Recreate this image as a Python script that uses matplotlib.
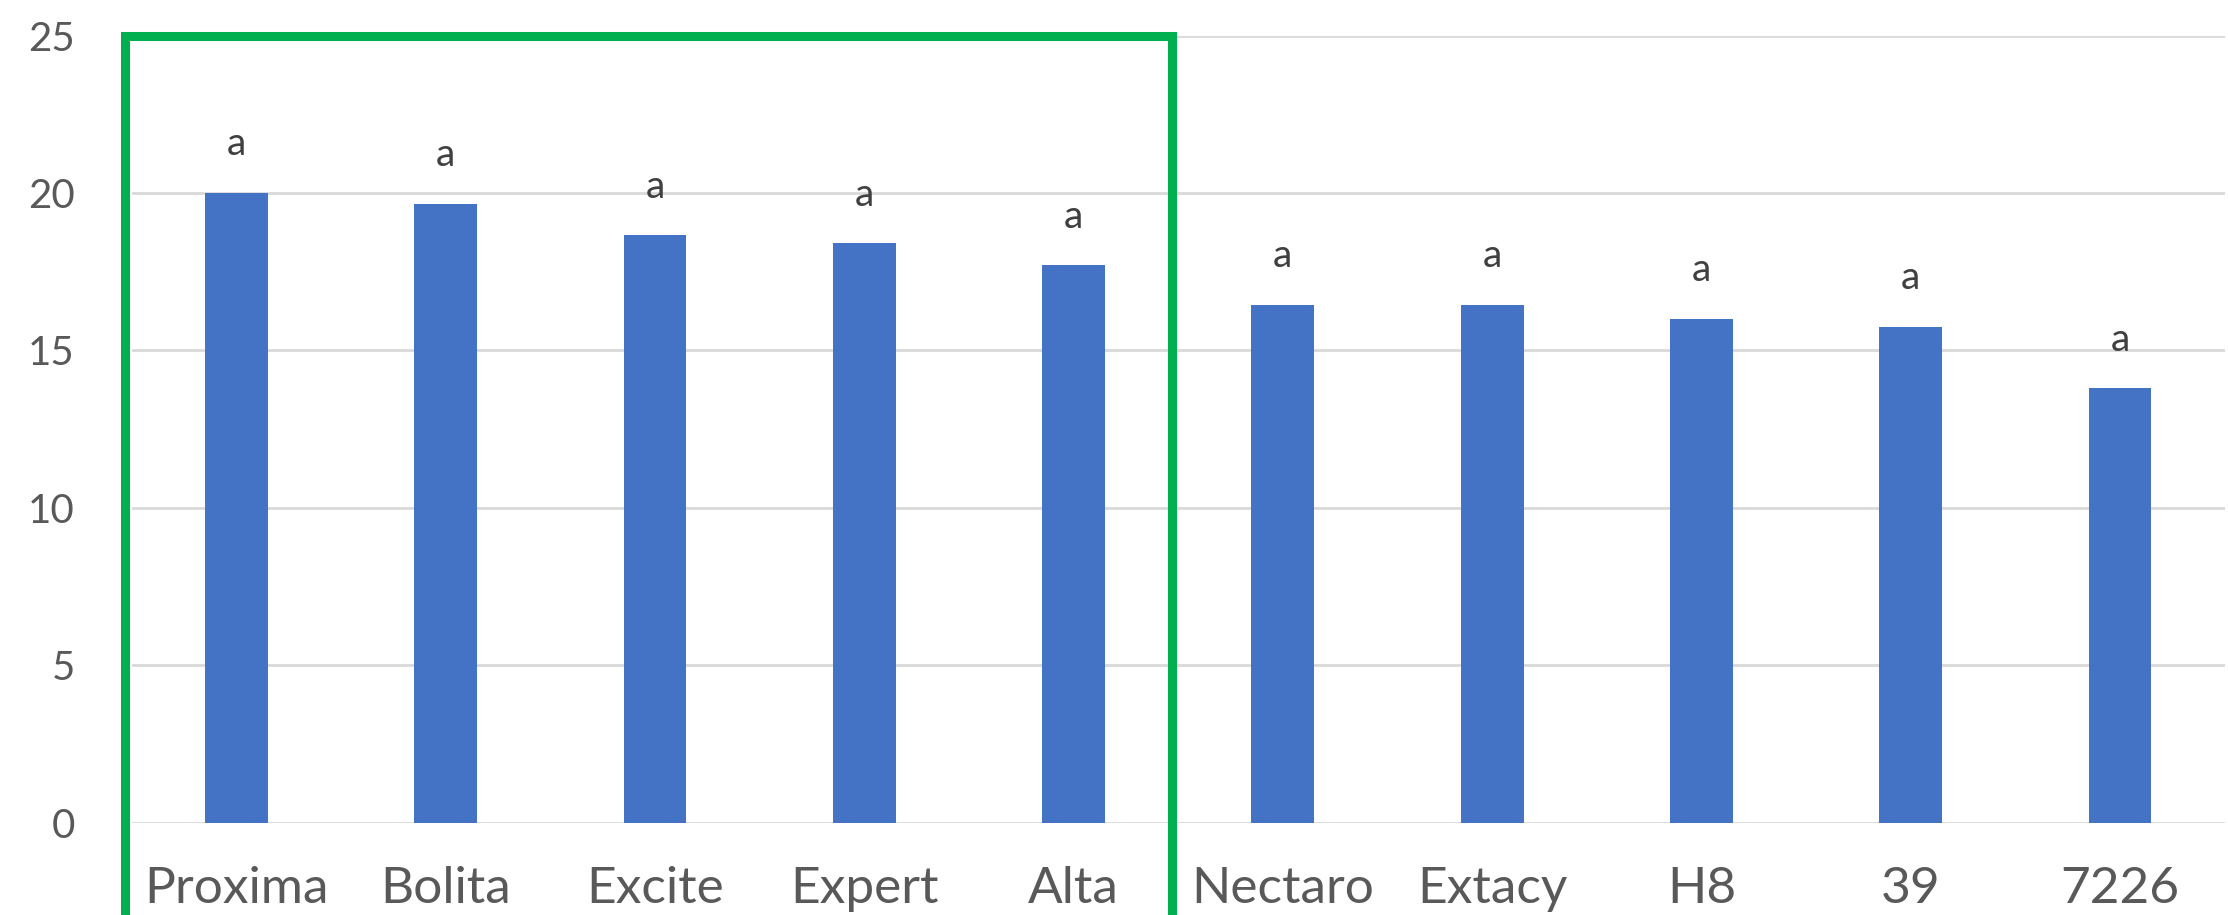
import numpy as np
import matplotlib.pyplot as plt
from matplotlib.patches import Rectangle

categories = ['Proxima', 'Bolita', 'Excite', 'Expert', 'Alta',
              'Nectaro', 'Extacy', 'H8', '39', '7226']
values = [20.0, 19.65, 18.65, 18.4, 17.7, 16.45, 16.45, 16.0, 15.75, 13.8]
letters = ['a'] * len(categories)
y_ticks = [0, 5, 10, 15, 20, 25]

plt.rcParams['font.family'] = ['Lato', 'DejaVu Sans']


def main():
    fig = plt.figure(figsize=(22.28, 9.15), dpi=100)
    ax = fig.add_axes([0.0591, 0.1009, 0.9394, 0.8603])

    x = np.arange(len(categories))
    ax.bar(x, values, width=0.30, color='#4472C4', zorder=3)

    # letters of significance above each bar
    for xi, v, lab in zip(x, values, letters):
        ax.annotate(lab, (xi, v), xytext=(0, 27), textcoords='offset points',
                    ha='center', va='baseline', fontsize=28, color='#404040')

    ax.set_xlim(-0.5, len(categories) - 0.5)
    ax.set_ylim(0, 25)
    ax.set_yticks(y_ticks)
    ax.set_xticks(x)
    ax.set_xticklabels(categories)

    ax.yaxis.grid(True, color='#D9D9D9', linewidth=2, zorder=0)
    ax.set_axisbelow(True)
    for s in ax.spines.values():
        s.set_visible(False)
    ax.tick_params(axis='y', length=0, pad=41, labelsize=29, labelcolor='#595959')
    ax.tick_params(axis='x', length=0, pad=31, labelsize=37, labelcolor='#595959')

    # green highlight box around first five cultivars
    box = Rectangle((-0.53, -10), 5.0, 35.0, fill=False, edgecolor='#00B050',
                    linewidth=6.5, transform=ax.transData, clip_on=False, zorder=5)
    ax.add_patch(box)

    fig.savefig('out.png', dpi=100, facecolor='white')


if __name__ == "__main__":
    main()
